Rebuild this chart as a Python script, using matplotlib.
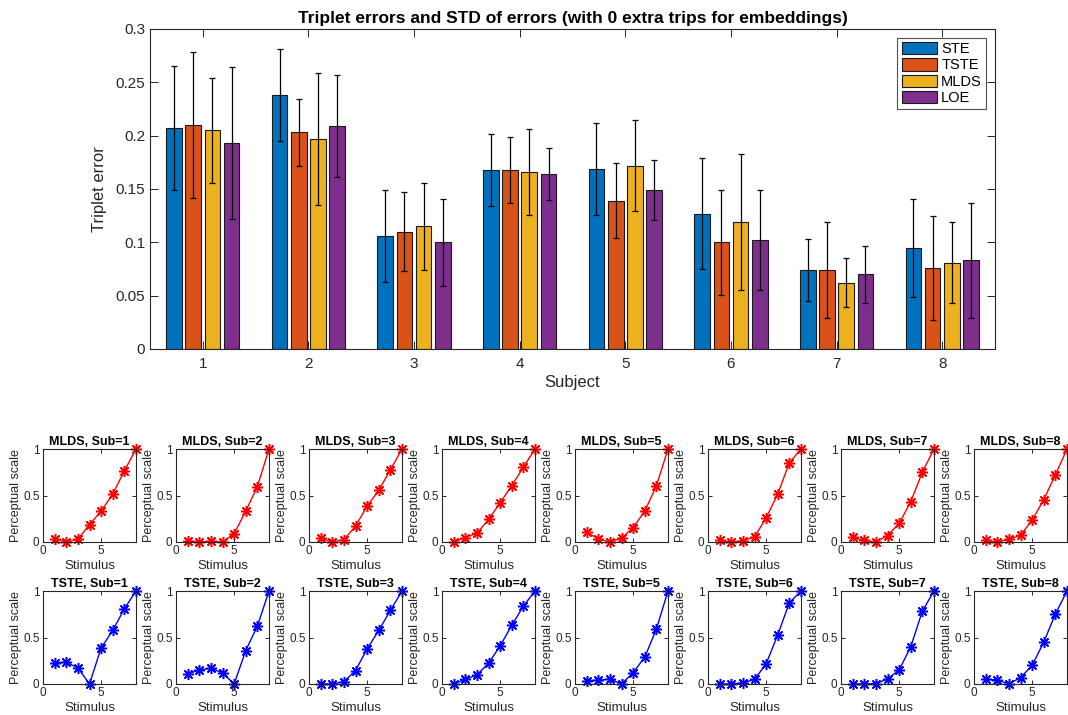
import numpy as np
import matplotlib
matplotlib.use("Agg")
import matplotlib.pyplot as plt

plt.rcParams['font.family'] = ['Liberation Sans', 'DejaVu Sans']

# top chart data
subjects = [1, 2, 3, 4, 5, 6, 7, 8]
methods = ["STE", "TSTE", "MLDS", "LOE"]
colors = ["#0072BD", "#D95319", "#EDB120", "#7E2F8E"]

err_ste = [0.207, 0.238, 0.106, 0.168, 0.169, 0.127, 0.074, 0.095]
err_tste = [0.210, 0.203, 0.110, 0.168, 0.139, 0.100, 0.074, 0.076]
err_mlds = [0.205, 0.197, 0.115, 0.166, 0.172, 0.119, 0.062, 0.081]
err_loe = [0.193, 0.209, 0.100, 0.164, 0.149, 0.102, 0.070, 0.083]

std_ste = [0.058, 0.043, 0.043, 0.034, 0.043, 0.052, 0.029, 0.046]
std_tste = [0.068, 0.031, 0.037, 0.031, 0.035, 0.049, 0.045, 0.049]
std_mlds = [0.049, 0.062, 0.041, 0.040, 0.043, 0.064, 0.023, 0.038]
std_loe = [0.071, 0.048, 0.041, 0.024, 0.028, 0.047, 0.027, 0.054]

# perceptual scales, stimulus 1..8
stimulus = [1, 2, 3, 4, 5, 6, 7, 8]
mlds_scales = [
    [0.036, 0.0, 0.029, 0.188, 0.332, 0.516, 0.765, 1.0],
    [0.014, 0.0, 0.007, 0.0, 0.09, 0.332, 0.596, 1.0],
    [0.04, 0.0, 0.025, 0.17, 0.386, 0.556, 0.776, 1.0],
    [0.0, 0.047, 0.094, 0.242, 0.422, 0.606, 0.805, 1.0],
    [0.108, 0.032, 0.0, 0.04, 0.155, 0.332, 0.603, 1.0],
    [0.018, 0.0, 0.014, 0.054, 0.26, 0.516, 0.852, 1.0],
    [0.05, 0.018, 0.0, 0.069, 0.2, 0.433, 0.751, 1.0],
    [0.018, 0.0, 0.029, 0.072, 0.235, 0.455, 0.722, 1.0],
]
tste_scales = [
    [0.227, 0.234, 0.173, 0.0, 0.388, 0.576, 0.809, 1.0],
    [0.108, 0.151, 0.169, 0.119, 0.0, 0.36, 0.622, 1.0],
    [0.0, 0.0, 0.025, 0.144, 0.378, 0.576, 0.791, 1.0],
    [0.0, 0.05, 0.097, 0.223, 0.41, 0.63, 0.838, 1.0],
    [0.036, 0.04, 0.054, 0.0, 0.122, 0.288, 0.59, 1.0],
    [0.0, 0.0, 0.011, 0.05, 0.216, 0.529, 0.874, 1.0],
    [0.0, 0.0, 0.004, 0.054, 0.151, 0.4, 0.784, 1.0],
    [0.05, 0.043, 0.0, 0.068, 0.2, 0.45, 0.752, 1.0],
]

W, H = 1068, 715
fig = plt.figure(figsize=(W / 100, H / 100), dpi=100)
axcol = "#262626"


def px_axes(left, top, right, bottom):
    return fig.add_axes([left / W, 1 - bottom / H, (right - left) / W, (bottom - top) / H])


def style(ax, fs, tl):
    for s in ax.spines.values():
        s.set_color(axcol)
        s.set_linewidth(0.8)
    ax.tick_params(direction="in", top=True, right=True, colors=axcol,
                   labelsize=fs, length=tl, width=0.7, labelcolor=axcol)
    ax.set_axisbelow(False)


# ---- top bar chart
ax = px_axes(150, 29, 995, 349)
x = np.arange(1, 9)
errs = [err_ste, err_tste, err_mlds, err_loe]
stds = [std_ste, std_tste, std_mlds, std_loe]
offsets = [-0.273, -0.091, 0.091, 0.273]
for i in range(4):
    ax.bar(x + offsets[i], errs[i], width=0.148, color=colors[i],
           edgecolor="#1a1a1a", linewidth=0.8, label=methods[i], zorder=2)
    ax.errorbar(x + offsets[i], errs[i], yerr=stds[i], fmt="none",
                ecolor="black", elinewidth=0.9, capsize=2.5, capthick=0.9, zorder=3)
ax.set_xlim(0.5, 8.5)
ax.set_ylim(0, 0.3)
ax.set_xticks(x)
ax.set_xticklabels([str(s) for s in subjects])
ax.set_yticks([0, 0.05, 0.1, 0.15, 0.2, 0.25, 0.3])
ax.set_yticklabels(["0", "0.05", "0.1", "0.15", "0.2", "0.25", "0.3"])
style(ax, 11, 6)
ax.tick_params(axis="x", pad=6)
ax.set_xlabel("Subject", fontsize=12, color=axcol, labelpad=3)
ax.set_ylabel("Triplet error", fontsize=12, color=axcol, labelpad=6)
ax.set_title("Triplet errors and STD of errors (with 0 extra trips for embeddings)",
             fontsize=12.5, fontweight="bold", pad=4)
leg = ax.legend(loc="upper right", fontsize=10.5, frameon=True, fancybox=False,
                borderaxespad=0.6, handlelength=2.4, handleheight=0.9,
                handletextpad=0.3, labelspacing=0.15, borderpad=0.3)
leg.get_frame().set_edgecolor(axcol)
leg.get_frame().set_linewidth(0.8)

# ---- small perceptual scale plots
col_left = [43 + 133 * k for k in range(8)]
rows = [(449, 542, "MLDS", mlds_scales, "r"), (591, 684, "TSTE", tste_scales, "b")]
for top, bottom, name, scales, c in rows:
    for k in range(8):
        a = px_axes(col_left[k], top, col_left[k] + 93, bottom)
        a.plot(stimulus, scales[k], "-", color=c, marker=(8, 2, 0), markersize=8,
               markeredgewidth=1.1, linewidth=1, clip_on=False)
        a.set_xlim(0, 8)
        a.set_ylim(0, 1)
        a.set_xticks([0, 5])
        a.set_yticks([0, 0.5, 1])
        a.set_yticklabels(["0", "0.5", "1"])
        style(a, 8.5, 3)
        a.tick_params(pad=2.5)
        a.set_title(name + ", Sub=" + str(k + 1), fontsize=9, fontweight="bold", pad=3)
        a.set_xlabel("Stimulus", fontsize=9.5, color=axcol, labelpad=2)
        a.set_ylabel("Perceptual scale", fontsize=9, color=axcol, labelpad=1)

fig.savefig("out.png", dpi=100)
